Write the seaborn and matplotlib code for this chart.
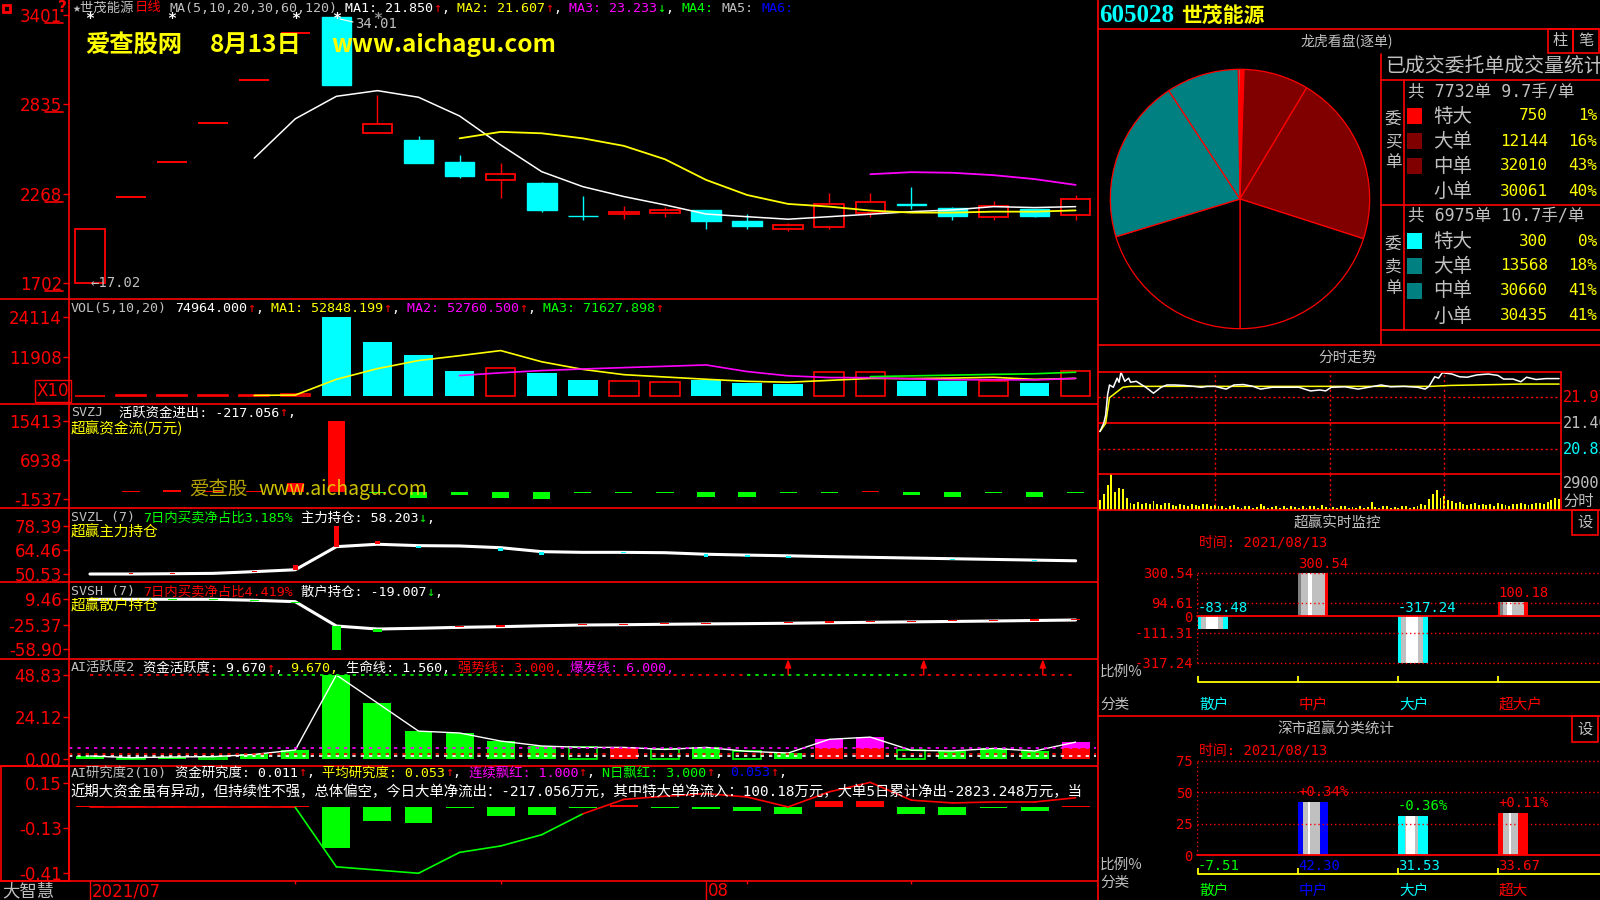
import numpy as np
import matplotlib
matplotlib.use('Agg')
import matplotlib.pyplot as plt
import matplotlib.transforms as mtransforms
from matplotlib.lines import Line2D
from matplotlib.patches import Rectangle
import seaborn as sns

sns.set_theme(style='dark', rc={'figure.facecolor': 'black', 'axes.facecolor': 'black',
                                'savefig.facecolor': 'black', 'axes.grid': False})
plt.rcParams['font.family'] = ['DejaVu Sans', 'Noto Sans CJK SC']
plt.rcParams['axes.unicode_minus'] = False

RED, CYAN, GREEN, YELLOW = '#FF0000', '#00FFFF', '#00FF00', '#FFFF00'
MAGENTA, GREY, BLUE, WHITE = '#FF00FF', '#C0C0C0', '#0000FF', '#FFFFFF'
DARKRED, TEAL = '#800000', '#008080'
MONO = ['DejaVu Sans Mono', 'Noto Sans CJK SC']
CJK = ['Noto Sans CJK SC', 'DejaVu Sans']
NARROW = ['Liberation Sans Narrow', 'DejaVu Sans']
HDR = 9.6  # header text size

# --- daily K-line (25 trading days) ---
days = np.arange(25)
opens = [17.02, 22.46, 24.71, 27.18, 29.90, 32.89, 33.92, 26.55, 26.08, 24.68, 23.57, 23.34, 21.27,
         21.39, 21.46, 21.63, 20.91, 20.45, 20.57, 21.46, 21.99, 21.75, 21.16, 21.69, 21.29]
highs = [20.42, 22.46, 24.71, 27.18, 29.90, 32.89, 34.01, 28.95, 26.33, 25.13, 24.60, 23.42, 22.52,
         21.87, 21.84, 21.66, 21.37, 20.82, 22.69, 22.73, 23.11, 21.84, 22.20, 21.72, 22.56]
lows = [17.02, 22.46, 24.71, 27.18, 29.90, 32.89, 29.55, 26.55, 24.62, 23.70, 22.41, 21.52, 20.99,
        21.08, 21.21, 20.45, 20.42, 20.31, 20.44, 21.21, 21.71, 21.01, 21.03, 21.18, 21.00]
closes = [20.42, 22.46, 24.71, 27.18, 29.90, 32.89, 29.55, 27.10, 24.64, 23.81, 23.92, 21.63, 21.23,
          21.52, 21.65, 20.93, 20.63, 20.67, 22.00, 22.13, 21.97, 21.27, 21.88, 21.27, 22.31]
ma5 = [24.93, 27.43, 28.86, 29.22, 28.80, 27.61, 25.77, 24.07, 23.12, 22.49, 21.96, 21.38, 21.21,
       21.05, 21.21, 21.37, 21.53, 21.64, 21.85, 21.79, 21.85]            # from day 4
ma10 = [26.19, 26.60, 26.51, 26.19, 25.71, 24.86, 23.55, 22.59, 22.02, 21.85, 21.60, 21.47, 21.47,
        21.53, 21.53, 21.61]                                                # from day 9
ma20 = [23.91, 24.04, 24.00, 23.85, 23.60, 23.23]                           # from day 19

volume = [60, 80, 80, 100, 120, 600, 24114, 16390, 12420, 7540, 8360, 7020, 4790, 4390, 4090,
          4790, 3880, 3470, 7110, 7110, 4610, 4610, 4610, 3970, 7496]
vol_up = [1, 1, 1, 1, 1, 1, 0, 0, 0, 0, 1, 0, 0, 1, 1, 0, 0, 0, 1, 1, 0, 0, 1, 0, 1]
vol_ma5 = [90, 200, 5000, 8260, 10730, 12210, 13770, 10350, 8030, 6420, 5710, 5020, 4390, 4120,
           4670, 5270, 5240, 5380, 5610, 4980, 5285]
vol_ma10 = [6150, 6980, 7670, 8150, 8570, 8970, 9390, 7370, 6070, 5540, 5500, 5130, 4880, 4870,
            4820, 5276]
vol_ma20 = [5830, 6050, 6280, 6510, 6700, 7163]

svzj = [0, 150, 450, 250, 300, 2000, 15413, -300, -1400, -600, -1400, -1500, -250, -250, -250,
        -1000, -1000, -250, -250, 250, -600, -1200, -250, -1000, -217]
svzl = [50.53, 50.53, 50.7, 50.9, 51.9, 53.0, 66.4, 67.8, 67.0, 66.8, 65.8, 63.5, 63.1, 63.1, 62.9,
        62.0, 61.5, 61.1, 60.6, 60.2, 59.8, 59.4, 59.0, 58.6, 58.2]
svzl_mark = [0, 0.5, 0.5, 0.5, 0.5, 3.0, 12.0, 1.8, -1.3, 0, -1.8, -2.2, 0, -0.4, -0.4, -1.6, -1.2,
             -1.2, 0, 0.4, 0, -0.8, 0, -0.8, 0]
svsh = [9.46, 9.46, 9.46, 9.4, 8.1, 6.2, -27.3, -31.4, -30.4, -29.1, -28.2, -26.9, -25.9, -25.5,
        -24.9, -24.4, -24.0, -23.5, -22.8, -22.2, -21.6, -21.0, -20.4, -19.7, -19.0]
svsh_mark = [0, 0, -1.2, -1.2, -1.2, -2.5, -33.0, -3.5, 0, 1.5, 2.0, 0, 1.5, 1.5, 1.5, 1.5, 0, 2.0,
             2.0, 1.5, 1.5, 1.5, 1.5, 1.5, 1.5]

act = [1.6, 0.6, 1.0, 1.2, 2.5, 5.1, 48.83, 32.5, 16.1, 15.0, 10.3, 7.4, 6.6, 6.6, 5.4, 6.6, 4.3,
       3.3, 11.3, 12.6, 4.9, 4.5, 6.0, 4.5, 9.67]
act_style = ['g', 'h', 'g', 'h', 'g', 'g', 'g', 'g', 'g', 'g', 'g', 'g', 'h', 'r', 'h', 'g', 'h',
             'g', 'r', 'r', 'h', 'g', 'g', 'g', 'r']
act_top_col = ['r'] * 3 + ['g'] * 8 + ['r'] * 5 + ['g'] * 4 + ['r'] * 4
act_arrows = [17, 20.3, 23.2]

research = [0.01, 0.01, 0.01, 0.01, 0.01, 0.01, -0.25, -0.086, -0.094, -0.004, -0.055, -0.048,
            -0.004, 0.013, -0.004, -0.012, -0.023, -0.042, 0.043, 0.043, -0.042, -0.048, -0.004,
            -0.023, 0.011]
research_line = [0, 0, 0, 0, 0, 0, -0.37, -0.39, -0.41, -0.28, -0.24, -0.17, -0.04, 0.05, 0.07,
                 0.086, 0.065, 0.003, 0.097, 0.156, 0.045, 0.028, 0.034, 0.034, 0.06]

date_major = [0, 15]
date_labels = ['2021/07', '08']
date_minor = [5, 10, 16, 20]

# --- right side: order book pie ---
order_types = ['特大', '大单', '中单', '小单']
buy_vol = [750, 12144, 32010, 30061]
buy_pct = ['1%', '16%', '43%', '40%']
buy_cols = [RED, DARKRED, DARKRED, 'black']
sell_vol = [300, 13568, 30660, 30435]
sell_pct = ['0%', '18%', '41%', '41%']
sell_cols = [CYAN, TEAL, TEAL, 'black']

# --- intraday ---
intra_min = [0, 2, 3, 4, 5, 7, 9, 10, 11, 13, 15, 16, 19, 22, 24, 28, 32, 35, 39, 44, 49, 53, 56,
             60, 66, 70, 75, 80, 84, 90, 97, 104, 110, 115, 118, 121, 128, 135, 143, 147, 152, 159,
             166, 170, 172, 175, 177, 179, 184, 188, 192, 197, 203, 208, 211, 216, 220, 223, 228,
             233, 238, 240]
intra_px = [21.22, 21.40, 21.58, 22.02, 22.24, 22.19, 22.39, 22.30, 22.52, 22.32, 22.39, 22.30,
            22.32, 22.24, 22.19, 22.06, 22.19, 22.24, 22.24, 22.23, 22.21, 22.19, 22.21, 22.21,
            22.15, 22.24, 22.25, 22.21, 22.15, 22.19, 22.19, 22.19, 22.11, 22.13, 22.11, 22.19,
            22.20, 22.15, 22.21, 22.24, 22.20, 22.21, 22.19, 22.15, 22.21, 22.42, 22.39, 22.51,
            22.48, 22.42, 22.41, 22.46, 22.48, 22.45, 22.37, 22.37, 22.31, 22.41, 22.36, 22.38,
            22.38, 22.38]
avg_min = [0, 3, 5, 8, 12, 16, 60, 120, 173, 183, 220, 240]
avg_px = [21.22, 21.40, 21.96, 22.06, 22.19, 22.21, 22.21, 22.21, 22.21, 22.23, 22.26, 22.26]
intra_vol = [800, 1300, 2000, 2900, 1500, 1800, 1700, 1000, 600, 500, 650,
             500, 600, 450, 700, 500, 400, 550, 600, 400, 350, 450, 400, 300, 500, 400, 350, 450,
             500, 300, 400,
             300, 350, 200, 300, 400, 250, 200, 350, 300, 200, 250, 450, 300, 200, 250, 350, 200,
             300, 200, 350, 250, 200, 300, 200, 350, 300, 200, 400, 250, 200,
             250, 200, 350, 300, 200, 250, 200, 350, 200, 250, 650, 250, 200, 300, 350, 200, 250,
             200, 350, 300, 200, 250, 350, 450, 400,
             900, 1300, 1600, 1000, 1100, 800, 700, 550, 650, 500, 400, 500, 550, 400, 500,
             400, 500, 350, 550, 500, 400, 350, 500, 450, 550, 500, 400, 500, 600, 550, 500, 650,
             800, 1000, 900]
intra_vol_min = list(range(0, 241, 2))

# --- 超赢 panels ---
rt_cats = ['散户', '中户', '大户', '超大户']
rt_vals = [-83.48, 300.54, -317.24, 100.18]
rt_ticks = [300.54, 94.61, 0, -111.31, -317.24]
cls_cats = ['散户', '中户', '大户', '超大']
cls_vals = [-7.51, 42.30, 31.53, 33.67]
cls_chg = ['', '+0.34%', '-0.36%', '+0.11%']
cls_cols = [GREEN, BLUE, CYAN, RED]

# ---------------- figure helpers ----------------
W, H = 1600, 900
fig = plt.figure(figsize=(16, 9), dpi=100)
renderer = fig.canvas.get_renderer()


def box(x0, y0, x1, y1):
    ax = fig.add_axes([x0 / W, 1 - y1 / H, (x1 - x0) / W, (y1 - y0) / H])
    ax.set_facecolor('black')
    for s in ax.spines.values():
        s.set_visible(False)
    ax.set_xticks([])
    ax.set_yticks([])
    ax.px = (x0, y0, x1, y1)
    return ax


def fy(ax, ypx):
    return (ax.px[3] - ypx) / (ax.px[3] - ax.px[1])


def line(x0, y0, x1, y1, color=RED, lw=1.2, ls='-'):
    fig.add_artist(Line2D([x0 / W, x1 / W], [1 - y0 / H, 1 - y1 / H], color=color, lw=lw,
                          ls=ls, transform=fig.transFigure))


def rect(x0, y0, x1, y1, color=RED, lw=1.2):
    fig.add_artist(Rectangle((x0 / W, 1 - y1 / H), (x1 - x0) / W, (y1 - y0) / H, fill=False,
                             edgecolor=color, lw=lw, transform=fig.transFigure))


def txt(x, y, s, color=GREY, size=10, family=MONO, ha='left', va='center', **kw):
    return fig.text(x / W, 1 - y / H, s, color=color, fontsize=size, family=family,
                    ha=ha, va=va, **kw)


def chain(x, y, parts, size=HDR, family=MONO):
    probe = txt(0, -50, '0000000000', size=size, family=['DejaVu Sans Mono'])
    sw = probe.get_window_extent(renderer).width / 10
    probe.remove()
    for s, c in parts:
        core = s.strip(' ')
        x += (len(s) - len(s.lstrip(' '))) * sw
        if core:
            t = txt(x, y, core, c, size, family)
            x += t.get_window_extent(renderer).width
        x += (len(s) - len(s.rstrip(' '))) * sw
    return x


def left_ticks(ax, vals, labels, size=12):
    ax.set_yticks(vals)
    ax.set_yticklabels(labels, fontsize=size, family=NARROW, color=RED)
    ax.tick_params(axis='y', left=True, length=4, width=1, color=RED, pad=1)


XLIM = (-0.51, 24.52)

# ---------------- price panel ----------------
ax_k = box(69, 0, 1097, 299)
for i in days:
    o, h, l, c = opens[i], highs[i], lows[i], closes[i]
    if o == c == h == l:
        ax_k.hlines(c, i - 0.36, i + 0.36, color=RED, lw=1.4)
    elif c >= o:
        ax_k.vlines(i, c, h, color=RED, lw=1)
        ax_k.vlines(i, l, o, color=RED, lw=1)
        ax_k.add_patch(Rectangle((i - 0.36, o), 0.72, max(c - o, 0.03), fill=False,
                                 edgecolor=RED, lw=1.3))
    else:
        ax_k.vlines(i, l, h, color=CYAN, lw=1)
        ax_k.add_patch(Rectangle((i - 0.36, c), 0.72, max(o - c, 0.03), facecolor=CYAN,
                                 edgecolor=CYAN, lw=1))
sns.lineplot(x=days[4:], y=ma5, ax=ax_k, color=WHITE, linewidth=1.1, legend=False)
sns.lineplot(x=days[9:], y=ma10, ax=ax_k, color=YELLOW, linewidth=1.3, legend=False)
sns.lineplot(x=days[19:], y=ma20, ax=ax_k, color=MAGENTA, linewidth=1.3, legend=False)
ax_k.set_xlim(XLIM)
ax_k.set_ylim(15.98, 34.98)
ax_k.set_xlabel('')
ax_k.set_ylabel('')
ax_k.set_xticks([])
price_ticks = [34.01, 28.35, 22.68, 17.02]
left_ticks(ax_k, price_ticks, ['3401', '2835', '2268', '1702'])
under = mtransforms.blended_transform_factory(ax_k.transAxes, ax_k.transData) + \
    mtransforms.ScaledTranslation(0, -0.08, fig.dpi_scale_trans)
for v in price_ticks:
    ax_k.plot([-0.023, -0.006], [v, v], transform=under, color=RED, lw=1.2, clip_on=False)
star_tr = mtransforms.blended_transform_factory(ax_k.transData, ax_k.transAxes)
for d, col in zip([0, 2, 5, 6, 7], [WHITE, WHITE, WHITE, WHITE, '#909090']):
    ax_k.text(d, 0.935, '*', transform=star_tr, color=col, fontsize=11, fontweight='bold',
              ha='center', va='center', family=['DejaVu Sans Mono'])
ax_k.text(0.02, 17.02, '←17.02', color=GREY, fontsize=10, family=MONO, va='center')
txt(355, 24, '34.01', GREY, 10)
line(340, 19, 353, 22, color=WHITE, lw=0.8)
chain(73, 8, [('★世茂能源', GREY), ('日线', RED), (' MA(5,10,20,30,60,120) ', GREY),
              ('MA1: 21.850', WHITE), ('↑', RED), (', ', WHITE), ('MA2: 21.607', YELLOW),
              ('↑', RED), (', ', WHITE), ('MA3: 23.233', MAGENTA), ('↓', GREEN),
              (', ', WHITE), ('MA4: ', GREEN), ('MA5: ', GREY), ('MA6:', BLUE)])
for s, x in [('爱查股网', 85), ('8月13日', 210), ('www.aichagu.com', 331)]:
    txt(x, 45, s, YELLOW, 17.5, CJK, fontweight='bold', zorder=20)
fig.add_artist(Rectangle((3 / W, 1 - 12 / H), 7 / W, 7 / H, fill=False, edgecolor=RED, lw=2,
                         transform=fig.transFigure))
txt(62, 7, '?', RED, 11, ['DejaVu Sans'], ha='center', fontweight='bold')

# ---------------- volume ----------------
ax_v = box(69, 299, 1097, 404)
for i in days:
    if vol_up[i]:
        ax_v.bar(i, volume[i], width=0.72, facecolor='none', edgecolor=RED, lw=1.2)
    else:
        ax_v.bar(i, volume[i], width=0.72, color=CYAN, lw=0)
sns.lineplot(x=days[4:], y=vol_ma5, ax=ax_v, color=YELLOW, linewidth=1.2, legend=False)
sns.lineplot(x=days[9:], y=vol_ma10, ax=ax_v, color=MAGENTA, linewidth=1.2, legend=False)
sns.lineplot(x=days[19:], y=vol_ma20, ax=ax_v, color=GREEN, linewidth=1.2, legend=False)
ax_v.set_xlim(XLIM)
ax_v.set_ylim(-2533, 29509)
ax_v.set_xlabel('')
ax_v.set_ylabel('')
left_ticks(ax_v, [24114, 11908], ['24114', '11908'])
txt(53, 391, 'X10', RED, 12, NARROW, ha='center',
    bbox=dict(facecolor='none', edgecolor=RED, pad=1.5, lw=1))
chain(71, 308, [('VOL(5,10,20) ', GREY), ('74964.000', WHITE), ('↑', RED), (', ', WHITE),
                ('MA1: 52848.199', YELLOW), ('↑', RED), (', ', WHITE),
                ('MA2: 52760.500', MAGENTA), ('↑', RED), (', ', WHITE),
                ('MA3: 71627.898', GREEN), ('↑', RED)])

# ---------------- SVZJ ----------------
ax_z = box(69, 404, 1097, 508)
ax_z.bar(days, svzj, width=0.42, color=[RED if v > 0 else GREEN for v in svzj], lw=0)
ax_z.set_xlim(XLIM)
ax_z.set_ylim(-3499, 19107)
left_ticks(ax_z, [15413, 6938, -1537], ['15413', '6938', '-1537'])
chain(71, 413, [('SVZJ  ', GREY), ('活跃资金进出: -217.056', WHITE), ('↑', RED), (',', WHITE)])
txt(71, 428, '超赢资金流(万元)', YELLOW, 10.5, CJK)
txt(189, 489, '爱查股', '#C8B400', 14, CJK, zorder=20, alpha=0.9)
txt(258, 489, 'www.aichagu.com', '#E6D800', 14, CJK, zorder=20, alpha=0.9)

# ---------------- SVZL ----------------
ax_l = box(69, 508, 1097, 582)
sns.lineplot(x=days, y=svzl, ax=ax_l, color=WHITE, linewidth=2.2, legend=False)
for i in days:
    if svzl_mark[i]:
        ax_l.bar(i, svzl_mark[i], bottom=svzl[i], width=0.12,
                 color=RED if svzl_mark[i] > 0 else CYAN, lw=0, zorder=3)
ax_l.set_xlim(XLIM)
ax_l.set_ylim(45.89, 88.84)
ax_l.set_xlabel('')
ax_l.set_ylabel('')
left_ticks(ax_l, [78.39, 64.46, 50.53], ['78.39', '64.46', '50.53'])
chain(71, 518, [('SVZL (7) ', GREY), ('7日内买卖净占比3.185%', GREEN), (' 主力持仓: 58.203', WHITE),
                ('↓', GREEN), (',', WHITE)])
txt(71, 532, '超赢主力持仓', YELLOW, 10.5, CJK)

# ---------------- SVSH ----------------
ax_s = box(69, 582, 1097, 659)
sns.lineplot(x=days, y=svsh, ax=ax_s, color=WHITE, linewidth=2.2, legend=False)
for i in days:
    if svsh_mark[i]:
        ax_s.bar(i, svsh_mark[i], bottom=svsh[i], width=0.22,
                 color=RED if svsh_mark[i] > 0 else GREEN, lw=0, zorder=3)
ax_s.set_xlim(XLIM)
ax_s.set_ylim(-72.66, 33.26)
ax_s.set_xlabel('')
ax_s.set_ylabel('')
left_ticks(ax_s, [9.46, -25.37, -58.90], ['9.46', '-25.37', '-58.90'])
chain(71, 592, [('SVSH (7) ', GREY), ('7日内买卖净占比4.419%', RED), (' 散户持仓: -19.007', WHITE),
                ('↓', GREEN), (',', WHITE)])
txt(71, 606, '超赢散户持仓', YELLOW, 10.5, CJK)

# ---------------- AI 活跃度 ----------------
ax_a = box(69, 659, 1097, 765.5)
for i in days:
    v, st = act[i], act_style[i]
    if st == 'g':
        ax_a.bar(i, v, width=0.68, color=GREEN, lw=0)
    elif st == 'h':
        ax_a.bar(i, v, width=0.68, facecolor='none', edgecolor=GREEN, lw=1.2)
    else:
        ax_a.bar(i, min(v, 6.0), width=0.68, color=RED, lw=0)
        ax_a.bar(i, v - 6.0, bottom=6.0, width=0.68, color=MAGENTA, lw=0)
sns.lineplot(x=days, y=act, ax=ax_a, color=WHITE, linewidth=1, legend=False)
for i in range(24):
    ax_a.hlines(48.83, i, i + 1, colors=RED if act_top_col[i] == 'r' else GREEN,
                linestyles=(0, (2, 3)), lw=1.2)
ax_a.hlines(6.0, -0.5, 24.5, colors=MAGENTA, linestyles=(0, (2, 3)), lw=1.2)
ax_a.hlines(3.0, -0.5, 24.5, colors=RED, linestyles=(0, (2, 3)), lw=1.2)
ax_a.hlines(1.56, -0.5, 24.5, colors=WHITE, linestyles=(0, (2, 3)), lw=1.2)
for x in act_arrows:
    ax_a.annotate('', xy=(x, 58.1), xytext=(x, 48.9), annotation_clip=False,
                  arrowprops=dict(arrowstyle='-|>,head_length=0.4,head_width=0.15', color=RED,
                                  lw=1.1, shrinkA=0, shrinkB=0))
ax_a.set_xlim(XLIM)
ax_a.set_ylim(-3.97, 58.17)
ax_a.set_xlabel('')
ax_a.set_ylabel('')
left_ticks(ax_a, [48.83, 24.12, 0.0], ['48.83', '24.12', '0.00'])
chain(71, 668, [('AI活跃度2 ', GREY), ('资金活跃度: 9.670', WHITE), ('↑', RED), (', ', WHITE),
                ('9.670,', YELLOW), (' 生命线: 1.560,', WHITE), (' 强势线: 3.000,', RED),
                (' 爆发线: 6.000,', MAGENTA)])

# ---------------- AI 研究度 ----------------
ax_r = box(69, 765.5, 1097, 880.5)
ax_r.bar(days, research, width=0.68, color=[RED if v > 0 else GREEN for v in research], lw=0)
for i in range(24):
    seg_col = GREEN if research_line[i + 1] < 0 else RED
    ax_r.plot([i, i + 1], [research_line[i], research_line[i + 1]], color=seg_col, lw=1.2)
ax_r.set_xlim(XLIM)
ax_r.set_ylim(-0.455, 0.261)
left_ticks(ax_r, [0.15, -0.13, -0.41], ['0.15', '-0.13', '-0.41'])
chain(71, 773, [('AI研究度2(10) ', GREY), ('资金研究度: 0.011', WHITE), ('↑', RED), (', ', WHITE),
                ('平均研究度: 0.053', YELLOW), ('↑', RED), (', ', WHITE),
                ('连续飘红: 1.000', MAGENTA), ('↑', RED), (', ', WHITE),
                ('N日飘红: 3.000', GREEN), ('↑', RED), (', ', WHITE), ('0.053', BLUE),
                ('↑', RED), (',', WHITE)])
ax_r.text(0.001, fy(ax_r, 792),
          '近期大资金虽有异动，但持续性不强，总体偏空，今日大单净流出：-217.056万元，'
          '其中特大单净流入：100.18万元，大单5日累计净出-2823.248万元，当',
          transform=ax_r.transAxes, color=WHITE, fontsize=10.4, family=MONO, va='center',
          clip_on=True)
rect(1, 766, 69, 880.5)

# ---------------- date strip ----------------
ax_d = box(69, 880.5, 1097, 900)
ax_d.set_xlim(XLIM)
ax_d.set_ylim(0, 1)
ax_d.vlines(date_major, 0, 1, color=RED, lw=1)
ax_d.vlines(date_minor, 0.8, 1, color=RED, lw=1)
for x, lab in zip(date_major, date_labels):
    ax_d.text(x + 0.05, 0.45, lab, color=RED, fontsize=12, family=NARROW, va='center')
txt(2, 891, '大智慧', GREY, 12.5, CJK)

# left frame lines
line(69, 0, 69, 880.5)
for y in [299, 404, 508, 582, 659, 765.5, 880.5]:
    line(0, y, 1097, y)
line(1098, 0, 1098, 900)

# ---------------- right: header + pie ----------------
code_end = chain(1099, 15, [('605028', CYAN)], size=18, family=['Liberation Serif', 'DejaVu Serif'])
for t in fig.texts[-1:]:
    t.set_fontweight('bold')
txt(1181, 15, '世茂能源', YELLOW, 15, CJK, fontweight='bold')
line(1098, 29, 1600, 29)
txt(1347, 41, '龙虎看盘(逐单)', GREY, 10, CJK, ha='center')
rect(1548, 29, 1573, 53)
rect(1573, 29, 1599, 53)
txt(1560, 41, '柱', GREY, 11, CJK, ha='center')
txt(1586, 41, '笔', GREY, 11, CJK, ha='center')

ax_p = box(1109, 68, 1371, 330)
ax_p.pie(buy_vol + sell_vol[::-1], colors=buy_cols + sell_cols[::-1], startangle=90,
         counterclock=False, radius=0.99, wedgeprops=dict(edgecolor=RED, linewidth=0.9))
ax_p.set_xlim(-1, 1)
ax_p.set_ylim(-1, 1)

line(1381, 54, 1381, 345)
txt(1385, 66, '已成交委托单成交量统计', GREY, 14.3, CJK)
line(1381, 80, 1600, 80)
line(1404, 80, 1404, 330)
line(1381, 205, 1600, 205)
line(1381, 330, 1600, 330)
chain(1408, 91, [('共 7732单 9.7手/单', GREY)], size=12)
chain(1408, 216, [('共 6975单 10.7手/单', GREY)], size=12)
for ys, ch in [([120, 142, 163], '委买单'), ([245, 267, 288], '委卖单')]:
    for y, c in zip(ys, ch):
        txt(1393, y, c, GREY, 12, CJK, ha='center')
for y0, vols, pcts, cols in [(116, buy_vol, buy_pct, buy_cols), (241, sell_vol, sell_pct, sell_cols)]:
    for k in range(4):
        y = y0 + 25 * k
        if cols[k] != 'black':
            fig.add_artist(Rectangle((1407 / W, 1 - (y + 8) / H), 15 / W, 16 / H,
                                     facecolor=cols[k], edgecolor='none',
                                     transform=fig.transFigure))
        txt(1433, y, order_types[k], GREY, 14, CJK)
        txt(1548, y, str(vols[k]), YELLOW, 11.5, MONO, ha='right')
        txt(1597, y, pcts[k], YELLOW, 11.5, MONO, ha='right')

# ---------------- right: intraday ----------------
line(1098, 345, 1600, 345)
txt(1348, 358, '分时走势', GREY, 10.5, CJK, ha='center')
ax_t = box(1098, 372.3, 1561, 474.3)
ax_t.hlines([21.97, 20.83], -1, 241, colors=RED, linestyles=(0, (1.5, 2)), lw=1)
ax_t.axhline(21.40, color=RED, lw=1.2)
ax_t.vlines([60, 120, 180], 20.282, 22.518, colors=RED, linestyles=(0, (1.5, 2)), lw=1)
sns.lineplot(x=avg_min, y=avg_px, ax=ax_t, color=YELLOW, linewidth=1.1, legend=False)
sns.lineplot(x=intra_min, y=intra_px, ax=ax_t, color=WHITE, linewidth=1.1, legend=False)
ax_t.set_xlim(-1, 241)
ax_t.set_ylim(20.282, 22.518)
ax_t.set_xlabel('')
ax_t.set_ylabel('')
ax_tv = box(1098, 474.3, 1561, 510)
ax_tv.bar(intra_vol_min, intra_vol, width=1.0, color=YELLOW, lw=0)
ax_tv.vlines([60, 120, 180], 0, 2900, colors=RED, linestyles=(0, (1.5, 2)), lw=1)
ax_tv.set_xlim(-1, 241)
ax_tv.set_ylim(0, 2900)
line(1098, 372.3, 1561, 372.3)
line(1098, 474.3, 1561, 474.3)
line(1561, 372.3, 1561, 510)
txt(1563, 397, '21.97', RED, 11)
txt(1563, 423, '21.40', GREY, 11)
txt(1563, 449, '20.83', CYAN, 11)
txt(1563, 484, '2900', GREY, 11)
txt(1563, 501, '分时', GREY, 11, CJK)

# ---------------- right: 超赢实时监控 ----------------
STRIPES = {
    'cyan': [(0, .1, CYAN), (.1, .25, GREY), (.25, .65, WHITE), (.65, .82, GREY), (.82, 1, CYAN)],
    'cyan2': [(0, .22, CYAN), (.22, .28, GREY), (.28, .58, WHITE), (.58, .67, GREY), (.67, 1, CYAN)],
    'red_top': [(0, .1, '#808080'), (.1, .32, GREY), (.32, .47, WHITE), (.47, .9, GREY), (.9, 1, RED)],
    'red_top2': [(0, .08, RED), (.08, .15, '#808080'), (.15, .3, GREY), (.3, .47, WHITE),
                 (.47, .85, GREY), (.85, 1, RED)],
    'blue': [(0, .17, BLUE), (.17, .33, GREY), (.33, .4, WHITE), (.4, .72, GREY), (.72, 1, BLUE)],
    'red': [(0, .15, RED), (.15, .35, GREY), (.35, .42, WHITE), (.42, .67, GREY), (.67, 1, RED)],
}


def striped(ax, x0, w, v, stripes):
    for a, b, c in stripes:
        ax.bar(x0 + a * w, v, width=(b - a) * w, align='edge', color=c, lw=0)


def right_bar_panel(ax, ylim, ticks, ticklabels):
    ax.set_xlim(0, 4.03)
    ax.set_ylim(*ylim)
    for t in ticks:
        if t != 0:
            ax.axhline(t, color=RED, ls=(0, (1, 2)), lw=1, clip_on=False)
    ax.axhline(0, color=RED, lw=1.3, clip_on=False)
    ax.axvline(0, color=RED, ls=(0, (1, 2)), lw=1)
    ax.set_yticks(ticks)
    ax.set_yticklabels(ticklabels, fontsize=10, family=MONO, color=RED)
    ax.tick_params(axis='y', left=True, length=0, pad=3)


line(1098, 510, 1600, 510)
txt(1337, 523, '超赢实时监控', GREY, 10.5, CJK, ha='center')
rect(1572, 510, 1598, 535)
txt(1585, 522, '设', GREY, 11, CJK, ha='center')
txt(1199, 543, '时间: 2021/08/13', RED, 10)
ax_rt = box(1197, 572.7, 1600, 662.5)
right_bar_panel(ax_rt, (-317.24, 300.54), rt_ticks, [f'{t:g}' if t == 0 else f'{t:.2f}' for t in rt_ticks])
rt_style = ['cyan', 'red_top', 'cyan', 'red_top2']
tr_rt = mtransforms.blended_transform_factory(ax_rt.transData, ax_rt.transAxes)
for i, v in enumerate(rt_vals):
    striped(ax_rt, i + 0.01, 0.3, v, STRIPES[rt_style[i]])
    col = RED if v > 0 else CYAN
    ax_rt.text(i + 0.01, max(v, 0) + 12, f'{v:.2f}', color=col, fontsize=10, family=MONO,
               va='bottom', clip_on=False)
    ax_rt.text(i + 0.02, fy(ax_rt, 705), rt_cats[i], transform=tr_rt, color=col, fontsize=10.5,
               family=CJK, va='center', clip_on=False)
ax_rt.plot([0.01, 4.03], [fy(ax_rt, 682)] * 2, transform=tr_rt, color=YELLOW, lw=1.3, clip_on=False)
ax_rt.vlines([0.01, 1.01, 2.01, 3.01], fy(ax_rt, 682), fy(ax_rt, 676), transform=tr_rt,
             color=YELLOW, lw=1.3, clip_on=False)
txt(1100, 672, '比例%', GREY, 10.5, CJK)
txt(1100, 705, '分类', GREY, 10.5, CJK)

# ---------------- right: 深市超赢分类统计 ----------------
line(1098, 716, 1600, 716)
txt(1336, 729, '深市超赢分类统计', GREY, 10.5, CJK, ha='center')
rect(1572, 716, 1598, 742)
txt(1585, 729, '设', GREY, 11, CJK, ha='center')
txt(1199, 750, '时间: 2021/08/13', RED, 10)
ax_c = box(1197, 760.7, 1600, 855.3)
right_bar_panel(ax_c, (0, 75), [75, 50, 25, 0], ['75', '50', '25', '0'])
cls_style = [None, 'blue', 'cyan2', 'red']
tr_c = mtransforms.blended_transform_factory(ax_c.transData, ax_c.transAxes)
for i, v in enumerate(cls_vals):
    if cls_style[i] and v > 0:
        striped(ax_c, i + 0.01, 0.3, v, STRIPES[cls_style[i]])
    if cls_chg[i]:
        ax_c.text(i + 0.01, v + 2, cls_chg[i], color=RED if cls_chg[i][0] == '+' else GREEN,
                  fontsize=10, family=MONO, va='bottom')
    ax_c.text(i + 0.01, fy(ax_c, 866), f'{v:.2f}', transform=tr_c, color=cls_cols[i],
              fontsize=10, family=MONO, va='center', clip_on=False)
    ax_c.text(i + 0.02, fy(ax_c, 891), cls_cats[i], transform=tr_c, color=cls_cols[i],
              fontsize=10.5, family=CJK, va='center', clip_on=False)
ax_c.plot([0.01, 4.03], [fy(ax_c, 874)] * 2, transform=tr_c, color=YELLOW, lw=1.3, clip_on=False)
ax_c.vlines([0.01, 1.01, 2.01, 3.01], fy(ax_c, 874), fy(ax_c, 868), transform=tr_c,
            color=YELLOW, lw=1.3, clip_on=False)
txt(1100, 865, '比例%', GREY, 10.5, CJK)
txt(1100, 883, '分类', GREY, 10.5, CJK)

fig.savefig('out.png', dpi=100, facecolor='black')
